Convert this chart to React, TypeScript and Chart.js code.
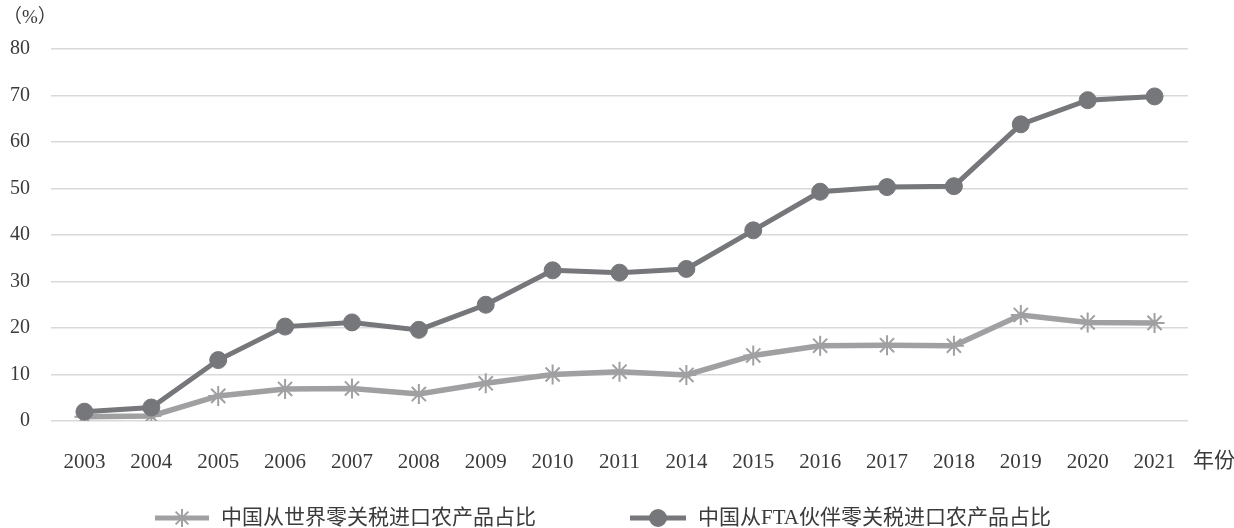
import React, { useEffect, useRef } from "react";
import { Chart, registerables } from "chart.js";
import { drawPoint } from "chart.js/helpers";

Chart.register(...registerables);

const years = ["2003","2004","2005","2006","2007","2008","2009","2010","2011","2014","2015","2016","2017","2018","2019","2020","2021"];
const worldShare = [0.9,1.1,5.4,6.9,7.0,5.8,8.1,10.0,10.6,9.9,14.1,16.2,16.3,16.2,22.8,21.2,21.1];
const ftaShare = [2.0,2.9,13.1,20.3,21.2,19.6,25.0,32.4,31.9,32.7,41.0,49.3,50.3,50.5,63.8,69.0,69.8];
const worldLabel = "中国从世界零关税进口农产品占比";
const ftaLabel = "中国从FTA伙伴零关税进口农产品占比";
const yUnit = "（%）";
const xUnit = "年份";

const WORLD_COLOR = "#a0a0a2";
const FTA_COLOR = "#76777b";
const TEXT_COLOR = "#3a3a3a";
const NUM_FONT = "'Liberation Serif', 'DejaVu Serif', serif";
const CJK_FONT = "'Liberation Serif', 'Noto Sans CJK SC', serif";

export default function App() {
  const ref = useRef<HTMLCanvasElement | null>(null);
  useEffect(() => {
    document.body.style.margin = "0";
    const canvas = ref.current;
    if (!canvas) return;
    const extras = {
      id: "extras",
      afterDraw(chart: any) {
        const ctx = chart.ctx;
        const area = chart.chartArea;
        ctx.save();
        ctx.fillStyle = TEXT_COLOR;
        ctx.textBaseline = "middle";
        ctx.font = `19px ${CJK_FONT}`;
        ctx.textAlign = "left";
        ctx.fillText(yUnit, 3, 18);
        ctx.font = `21px ${CJK_FONT}`;
        ctx.fillText(xUnit, area.right + 5, 461);
        const ly = 518;
        const items = [
          { x1: 155, x2: 209, label: worldLabel, color: WORLD_COLOR, style: "star", lw: 5, r: 9 },
          { x1: 630, x2: 686, label: ftaLabel, color: FTA_COLOR, style: "circle", lw: 5, r: 8 },
        ];
        for (const it of items) {
          ctx.strokeStyle = it.color;
          ctx.lineWidth = it.lw;
          ctx.lineCap = "butt";
          ctx.beginPath();
          ctx.moveTo(it.x1, ly);
          ctx.lineTo(it.x2, ly);
          ctx.stroke();
          ctx.fillStyle = it.color;
          ctx.lineWidth = 2;
          drawPoint(ctx, { pointStyle: it.style, radius: it.r, borderWidth: 2, rotation: 0 } as any, (it.x1 + it.x2) / 2, ly);
          ctx.fillStyle = TEXT_COLOR;
          ctx.font = `21px ${CJK_FONT}`;
          ctx.textAlign = "left";
          ctx.fillText(it.label, it.x2 + 12, ly);
        }
        ctx.restore();
      },
    };
    const chart = new Chart(canvas, {
      type: "line",
      data: {
        labels: years,
        datasets: [
          {
            label: ftaLabel,
            data: ftaShare,
            borderColor: FTA_COLOR,
            backgroundColor: FTA_COLOR,
            borderWidth: 5,
            pointStyle: "circle",
            pointRadius: 8.5,
            pointBorderWidth: 1,
            pointBackgroundColor: FTA_COLOR,
            pointBorderColor: FTA_COLOR,
            order: 0,
          },
          {
            label: worldLabel,
            data: worldShare,
            borderColor: WORLD_COLOR,
            backgroundColor: WORLD_COLOR,
            borderWidth: 5.5,
            pointStyle: "star",
            pointRadius: 10,
            pointBorderWidth: 2,
            pointBorderColor: WORLD_COLOR,
            order: 1,
          },
        ],
      },
      options: {
        animation: false,
        responsive: false,
        devicePixelRatio: 1,
        layout: { padding: { top: 49, right: 46, left: 0, bottom: 0 } },
        plugins: { legend: { display: false }, tooltip: { enabled: false } },
        scales: {
          x: {
            offset: true,
            grid: { display: false, drawTicks: false },
            border: { display: false },
            ticks: { color: TEXT_COLOR, font: { size: 21, family: NUM_FONT }, padding: 29, maxRotation: 0, autoSkip: false },
            afterFit(scale: any) { scale.height = 107; },
          },
          y: {
            min: 0,
            max: 80,
            grid: { color: "#d9d9d9", lineWidth: 1.5, drawTicks: false },
            border: { display: false },
            ticks: { stepSize: 10, color: TEXT_COLOR, font: { size: 20, family: NUM_FONT }, padding: 21 },
            afterFit(scale: any) { scale.width = 51; },
          },
        },
      },
      plugins: [extras],
    });
    return () => chart.destroy();
  }, []);
  return <canvas ref={ref} width={1234} height={528} style={{ display: "block", width: 1234, height: 528 }} />;
}
